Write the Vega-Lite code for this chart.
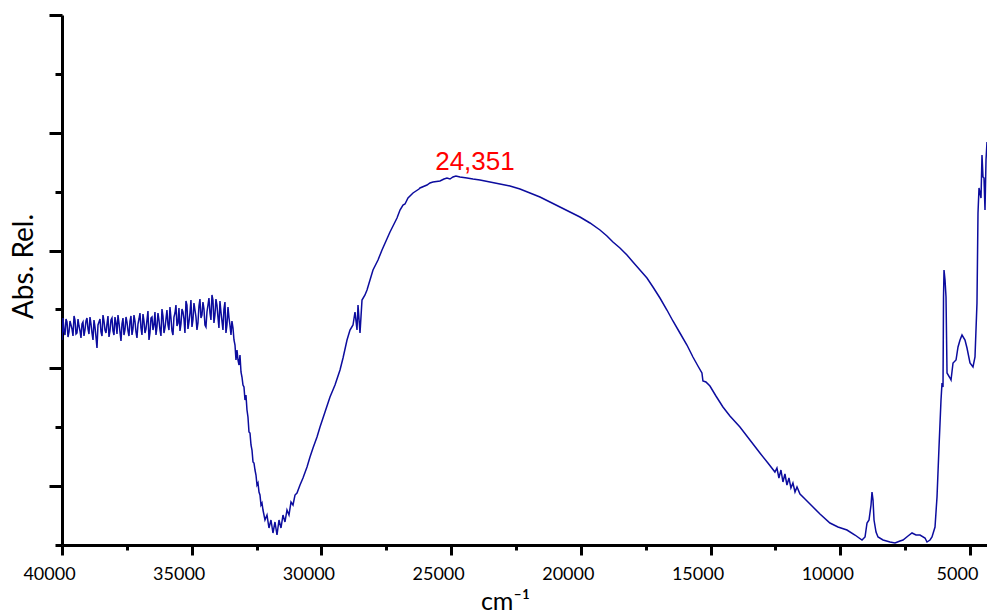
{
  "$schema": "https://vega.github.io/schema/vega-lite/v6.json",
  "width": 925,
  "height": 530,
  "autosize": {"type": "none"},
  "padding": {"left": 62, "top": 15, "right": 0, "bottom": 68},
  "background": "white",
  "config": {"view": {"stroke": null}},
  "datasets": {
    "spectrum": [
      {"w":40000,"a":205},{"w":39961,"a":227},{"w":39923,"a":214},{"w":39884,"a":210},{"w":39846,"a":226},{"w":39807,"a":223},{"w":39769,"a":208},{"w":39730,"a":213},{"w":39692,"a":224},{"w":39653,"a":220},{"w":39615,"a":216},{"w":39576,"a":209},{"w":39537,"a":229},{"w":39499,"a":225},{"w":39460,"a":211},{"w":39422,"a":212},{"w":39383,"a":226},{"w":39345,"a":219},
      {"w":39306,"a":214},{"w":39268,"a":207},{"w":39229,"a":221},{"w":39191,"a":223},{"w":39152,"a":209},{"w":39114,"a":215},{"w":39075,"a":224},{"w":39037,"a":227},{"w":38998,"a":216},{"w":38960,"a":211},{"w":38921,"a":228},{"w":38882,"a":221},{"w":38844,"a":212},{"w":38805,"a":205},{"w":38767,"a":225},{"w":38728,"a":218},{"w":38690,"a":208},{"w":38651,"a":197},{"w":38613,"a":220},{"w":38574,"a":223},
      {"w":38535,"a":226},{"w":38497,"a":213},{"w":38458,"a":209},{"w":38420,"a":230},{"w":38381,"a":224},{"w":38343,"a":215},{"w":38304,"a":212},{"w":38266,"a":221},{"w":38227,"a":229},{"w":38189,"a":208},{"w":38150,"a":214},{"w":38112,"a":225},{"w":38073,"a":227},{"w":38035,"a":214},{"w":37996,"a":210},{"w":37958,"a":228},{"w":37919,"a":222},{"w":37880,"a":211},{"w":37842,"a":230},{"w":37803,"a":222},
      {"w":37765,"a":213},{"w":37726,"a":204},{"w":37688,"a":221},{"w":37649,"a":227},{"w":37611,"a":210},{"w":37572,"a":215},{"w":37533,"a":228},{"w":37495,"a":223},{"w":37456,"a":214},{"w":37418,"a":209},{"w":37379,"a":224},{"w":37341,"a":229},{"w":37302,"a":210},{"w":37264,"a":216},{"w":37225,"a":230},{"w":37187,"a":224},{"w":37148,"a":213},{"w":37110,"a":207},{"w":37071,"a":221},{"w":37033,"a":226},
      {"w":36994,"a":232},{"w":36956,"a":217},{"w":36917,"a":210},{"w":36878,"a":231},{"w":36840,"a":224},{"w":36801,"a":212},{"w":36763,"a":216},{"w":36724,"a":225},{"w":36686,"a":234},{"w":36647,"a":205},{"w":36609,"a":212},{"w":36570,"a":227},{"w":36531,"a":228},{"w":36493,"a":215},{"w":36454,"a":220},{"w":36416,"a":233},{"w":36377,"a":210},{"w":36339,"a":218},{"w":36300,"a":232},{"w":36262,"a":225},
      {"w":36223,"a":215},{"w":36185,"a":209},{"w":36146,"a":236},{"w":36108,"a":229},{"w":36069,"a":212},{"w":36031,"a":217},{"w":35992,"a":226},{"w":35954,"a":235},{"w":35915,"a":220},{"w":35876,"a":215},{"w":35838,"a":238},{"w":35799,"a":227},{"w":35761,"a":214},{"w":35722,"a":210},{"w":35684,"a":228},{"w":35645,"a":232},{"w":35607,"a":240},{"w":35568,"a":219},{"w":35529,"a":222},{"w":35491,"a":237},
      {"w":35452,"a":214},{"w":35414,"a":221},{"w":35375,"a":236},{"w":35337,"a":233},{"w":35298,"a":226},{"w":35260,"a":212},{"w":35221,"a":244},{"w":35183,"a":240},{"w":35144,"a":216},{"w":35106,"a":223},{"w":35067,"a":232},{"w":35029,"a":245},{"w":34990,"a":218},{"w":34952,"a":225},{"w":34913,"a":242},{"w":34874,"a":235},{"w":34836,"a":228},{"w":34797,"a":215},{"w":34759,"a":222},{"w":34720,"a":239},
      {"w":34682,"a":246},{"w":34643,"a":227},{"w":34605,"a":230},{"w":34566,"a":243},{"w":34527,"a":236},{"w":34489,"a":220},{"w":34450,"a":218},{"w":34412,"a":233},{"w":34373,"a":240},{"w":34335,"a":247},{"w":34296,"a":232},{"w":34258,"a":225},{"w":34219,"a":250},{"w":34181,"a":245},{"w":34142,"a":222},{"w":34104,"a":230},{"w":34065,"a":246},{"w":34027,"a":240},{"w":33988,"a":228},{"w":33950,"a":217},
      {"w":33911,"a":244},{"w":33872,"a":233},{"w":33834,"a":224},{"w":33795,"a":215},{"w":33757,"a":236},{"w":33718,"a":243},{"w":33680,"a":212},{"w":33641,"a":220},{"w":33601,"a":238},{"w":33562,"a":227},{"w":33526,"a":220},{"w":33485,"a":210},{"w":33449,"a":224},{"w":33408,"a":217},{"w":33370,"a":205},{"w":33331,"a":200},{"w":33293,"a":185},{"w":33254,"a":195},{"w":33216,"a":185},{"w":33177,"a":180},
      {"w":33139,"a":190},{"w":33100,"a":173},{"w":33062,"a":168},{"w":33023,"a":160},{"w":32985,"a":158},{"w":32946,"a":145},{"w":32908,"a":150},{"w":32869,"a":135},{"w":32831,"a":128},{"w":32792,"a":113},{"w":32753,"a":112},{"w":32714,"a":100},{"w":32676,"a":95},{"w":32637,"a":83},{"w":32599,"a":82},{"w":32560,"a":75},{"w":32522,"a":70},{"w":32483,"a":60},{"w":32445,"a":62},{"w":32406,"a":53},
      {"w":32368,"a":50},{"w":32329,"a":40},{"w":32291,"a":42},{"w":32252,"a":35},{"w":32175,"a":25},{"w":32098,"a":30},{"w":32021,"a":17},{"w":31944,"a":25},{"w":31867,"a":12},{"w":31790,"a":23},{"w":31712,"a":10},{"w":31635,"a":25},
      {"w":31558,"a":17},{"w":31481,"a":30},{"w":31404,"a":23},{"w":31327,"a":35},{"w":31250,"a":30},{"w":31172,"a":43},{"w":31095,"a":40},{"w":31018,"a":50},{"w":30941,"a":52},{"w":30825,"a":60},
      {"w":30710,"a":67},{"w":30555,"a":78},{"w":30440,"a":88},{"w":30324,"a":97},{"w":30170,"a":108},{"w":30054,"a":118},{"w":29861,"a":133},{"w":29669,"a":148},{"w":29476,"a":160},{"w":29283,"a":175},
      {"w":29167,"a":187},{"w":29013,"a":205},{"w":28898,"a":215},{"w":28782,"a":220},{"w":28705,"a":233},{"w":28628,"a":215},{"w":28589,"a":240},{"w":28512,"a":212},{"w":28435,"a":245},{"w":28320,"a":250},
      {"w":28242,"a":255},{"w":28127,"a":265},{"w":28011,"a":275},{"w":27818,"a":285},{"w":27664,"a":295},{"w":27510,"a":304},{"w":27356,"a":313},{"w":27201,"a":321},{"w":27086,"a":327},{"w":26970,"a":335},
      {"w":26855,"a":340},{"w":26778,"a":341},{"w":26662,"a":347},{"w":26469,"a":352},{"w":26238,"a":356},{"w":26200,"a":357},{"w":25930,"a":360},{"w":25815,"a":362},{"w":25699,"a":363},{"w":25429,"a":364},{"w":25275,"a":366},{"w":25159,"a":367},{"w":25044,"a":366},{"w":24928,"a":368},{"w":24813,"a":369},{"w":24658,"a":368},
      {"w":24389,"a":367},{"w":24157,"a":366},{"w":23888,"a":365},{"w":23502,"a":363},{"w":23117,"a":361},{"w":22731,"a":359},{"w":22346,"a":356},{"w":21960,"a":352},{"w":21575,"a":348},{"w":21189,"a":343},
      {"w":20804,"a":338},{"w":20418,"a":333},{"w":20033,"a":328},{"w":19647,"a":322},{"w":19262,"a":315},{"w":18992,"a":309},{"w":18761,"a":303},{"w":18491,"a":297},{"w":18221,"a":290},{"w":17990,"a":283},
      {"w":17720,"a":275},{"w":17450,"a":267},{"w":17219,"a":258},{"w":16949,"a":247},{"w":16680,"a":235},{"w":16449,"a":224},{"w":16179,"a":212},{"w":15909,"a":200},{"w":15678,"a":188},{"w":15485,"a":179},
      {"w":15331,"a":172},{"w":15292,"a":164},{"w":15177,"a":163},{"w":15022,"a":159},{"w":14791,"a":149},{"w":14521,"a":138},{"w":14252,"a":129},{"w":13866,"a":118},{"w":13481,"a":105},{"w":13095,"a":92},
      {"w":12787,"a":82},{"w":12517,"a":73},{"w":12440,"a":77},{"w":12363,"a":67},{"w":12285,"a":75},{"w":12208,"a":63},{"w":12131,"a":71},{"w":12054,"a":60},{"w":11977,"a":67},{"w":11900,"a":57},
      {"w":11823,"a":62},{"w":11743,"a":53},{"w":11666,"a":58},{"w":11551,"a":51},{"w":11358,"a":46},{"w":11050,"a":38},{"w":10781,"a":31},{"w":10396,"a":22},{"w":10087,"a":18},{"w":9740,"a":15},
      {"w":9432,"a":10},{"w":9160,"a":5},{"w":9044,"a":8},{"w":8967,"a":22},{"w":8890,"a":25},{"w":8813,"a":40},{"w":8775,"a":53},{"w":8736,"a":45},{"w":8697,"a":25},{"w":8620,"a":13},
      {"w":8543,"a":8},{"w":8350,"a":5},{"w":8081,"a":3},{"w":7888,"a":2},{"w":7695,"a":4},{"w":7580,"a":5},{"w":7387,"a":9},{"w":7233,"a":12},{"w":7079,"a":10},{"w":6925,"a":10},
      {"w":6732,"a":7},{"w":6655,"a":3},{"w":6539,"a":5},{"w":6462,"a":8},{"w":6346,"a":18},{"w":6269,"a":48},{"w":6192,"a":98},{"w":6115,"a":145},{"w":6076,"a":162},{"w":6038,"a":158},
      {"w":6018,"a":248},{"w":5999,"a":275},{"w":5960,"a":265},{"w":5922,"a":248},{"w":5883,"a":172},{"w":5767,"a":167},{"w":5729,"a":165},{"w":5652,"a":182},{"w":5536,"a":185},{"w":5459,"a":198},
      {"w":5382,"a":205},{"w":5305,"a":210},{"w":5190,"a":205},{"w":5113,"a":197},{"w":4997,"a":182},{"w":4882,"a":178},{"w":4805,"a":188},{"w":4728,"a":242},{"w":4689,"a":332},{"w":4650,"a":357},
      {"w":4573,"a":347},{"w":4535,"a":390},{"w":4496,"a":368},{"w":4458,"a":367},{"w":4419,"a":335},{"w":4380,"a":385},{"w":4342,"a":403}
    ],
    "labels": [{"w": 24351, "a": 375, "text": "24,351"}]
  },
  "layer": [
    {
      "data": {"name": "spectrum"},
      "mark": {"type": "line", "color": "#0c0c9e", "strokeWidth": 1.5, "clip": true},
      "encoding": {
        "x": {
          "field": "w", "type": "quantitative",
          "scale": {"domain": [40000, 4342], "nice": false, "zero": false},
          "axis": {
            "title": "cm⁻¹",
            "titleFont": "Lato", "titleFontSize": 25, "titleFontWeight": "normal", "titleColor": "black",
            "titlePadding": 6, "titleX": 443,
            "values": [40000, 37500, 35000, 32500, 30000, 27500, 25000, 22500, 20000, 17500, 15000, 12500, 10000, 7500, 5000],
            "labelExpr": "datum.value % 5000 == 0 ? format(datum.value, 'd') : ''",
            "labelFont": "Lato", "labelFontSize": 18, "labelColor": "black", "labelPadding": 10,
            "labelOffset": -13,
            "labelFlush": false, "labelOverlap": false,
            "domainColor": "black", "domainWidth": 3,
            "tickColor": "black", "tickWidth": 3,
            "tickSize": {"condition": {"test": "datum.value % 5000 == 0", "value": 10}, "value": 5},
            "grid": false
          }
        },
        "y": {
          "field": "a", "type": "quantitative",
          "scale": {"domain": [0, 530], "nice": false, "zero": false},
          "axis": {
            "title": "Abs. Rel.",
            "titleFont": "Lato", "titleFontSize": 28, "titleFontWeight": "normal", "titleColor": "black",
            "titlePadding": 9, "titleY": 251,
            "values": [0, 58.889, 117.778, 176.667, 235.556, 294.444, 353.333, 412.222, 471.111, 530],
            "labels": false,
            "domainColor": "black", "domainWidth": 3,
            "tickColor": "black", "tickWidth": 3,
            "tickSize": {"condition": {"test": "round(datum.value / 58.889) % 2 == 1", "value": 13}, "value": 7},
            "grid": false
          }
        }
      }
    },
    {
      "data": {"name": "labels"},
      "mark": {"type": "text", "color": "red", "font": "Liberation Sans", "fontSize": 26, "baseline": "alphabetic", "align": "center", "dx": 7},
      "encoding": {
        "x": {"field": "w", "type": "quantitative"},
        "y": {"field": "a", "type": "quantitative"},
        "text": {"field": "text"}
      }
    }
  ]
}
